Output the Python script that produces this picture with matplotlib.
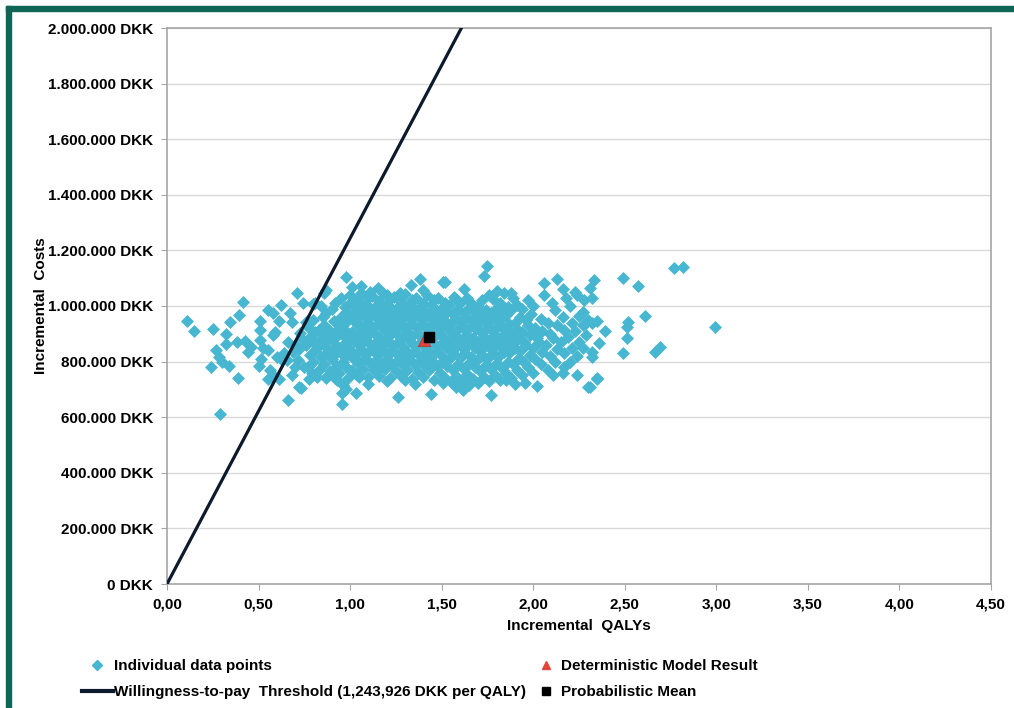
import matplotlib
matplotlib.use("Agg")
import matplotlib.pyplot as plt
from matplotlib.lines import Line2D
from matplotlib.patches import Rectangle
from matplotlib.ticker import FuncFormatter

# ---------------- data (QALY, cost in thousand DKK) ----------------
left_tail = [(0.11,946),(0.15,910),(0.25,917),(0.415,1014),(0.344,942),(0.393,968),(0.32,899),(0.322,863),
             (0.27,842),(0.284,817),(0.238,781),(0.30,799),(0.34,784),(0.386,741),(0.29,611),(0.38,870),
             (0.427,874),(0.44,835),(0.46,853),(0.508,946),(0.508,914),(0.508,878),(0.513,809),(0.50,784),
             (0.55,986),(0.58,975),(0.62,1004),(0.61,946),(0.59,906),(0.58,896),(0.67,975),(0.68,942),
             (0.71,1047),(0.74,1011),(0.80,1007),(0.66,870),(0.525,849),(0.55,842),(0.60,817),(0.63,806),
             (0.56,770),(0.58,752),(0.55,737),(0.61,737),(0.68,752),(0.72,709),(0.775,737),(0.66,662),
             (0.655,806),(0.69,835),(0.715,806),(0.75,781),(0.727,903),(0.76,942),(0.74,878),(0.70,860),
             (0.72,845),(0.64,830),(0.70,780)]

left_shoulder = [(0.77,780),(0.78,822),(0.76,858),(0.78,890),(0.77,925),(0.79,760),
                 (0.80,800),(0.81,842),(0.79,874),(0.81,905),(0.80,948),(0.82,745),
                 (0.83,770),(0.84,815),(0.82,850),(0.84,882),(0.83,915),(0.85,962),(0.84,1000),
                 (0.86,790),(0.87,830),(0.85,866),(0.87,896),(0.86,930),(0.88,752),(0.87,975),
                 (0.89,765),(0.90,810),(0.88,845),(0.90,878),(0.89,910),(0.91,945),(0.90,990),
                 (0.92,740),(0.93,785),(0.91,822),(0.93,856),(0.92,888),(0.94,920),(0.92,1010)]

core = [(0.94,760),(0.96,800),(0.95,835),(0.97,868),(0.94,900),(0.96,930),(0.95,962),(0.97,995),(0.95,1030),
        (0.99,742),(0.98,782),(0.97,818),(0.99,850),(0.98,884),(0.97,915),(0.99,948),(0.98,978),(1.00,1012),
        (1.01,770),(1.02,808),(1.00,842),(1.02,875),(1.01,906),(1.03,938),(1.01,970),(1.02,1003),(1.00,1040),
        (1.04,752),(1.05,790),(1.03,826),(1.05,858),(1.04,892),(1.06,922),(1.04,955),(1.05,988),(1.04,1022),
        (1.07,775),(1.08,812),(1.06,846),(1.08,878),(1.07,910),(1.09,944),(1.07,975),(1.08,1008),(1.06,1048),
        (1.10,745),(1.11,795),(1.09,830),(1.11,862),(1.10,896),(1.12,926),(1.10,958),(1.11,992),(1.10,1030),
        (1.13,768),(1.14,805),(1.12,840),(1.14,872),(1.13,904),(1.15,935),(1.13,968),(1.14,1000),(1.12,1036),
        (1.16,750),(1.17,788),(1.15,822),(1.17,856),(1.16,888),(1.18,920),(1.16,950),(1.17,985),(1.16,1018),
        (1.19,772),(1.20,810),(1.18,845),(1.20,878),(1.19,912),(1.21,942),(1.19,973),(1.20,1006),(1.18,1045),
        (1.22,740),(1.23,792),(1.21,828),(1.23,860),(1.22,894),(1.24,925),(1.22,958),(1.23,990),(1.22,1026),
        (1.25,765),(1.26,804),(1.24,838),(1.26,870),(1.25,902),(1.27,934),(1.25,965),(1.26,998),(1.24,1034),
        (1.28,748),(1.29,786),(1.27,820),(1.29,854),(1.28,886),(1.30,918),(1.28,950),(1.29,982),(1.28,1015),
        (1.31,770),(1.32,808),(1.30,842),(1.32,876),(1.31,908),(1.33,940),(1.31,972),(1.32,1004),(1.30,1042),
        (1.34,738),(1.35,790),(1.33,826),(1.35,858),(1.34,892),(1.36,924),(1.34,956),(1.35,988),(1.34,1022),
        (1.37,762),(1.38,802),(1.36,836),(1.38,868),(1.37,900),(1.39,932),(1.37,964),(1.38,996),(1.36,1030),
        (1.40,745),(1.41,785),(1.39,818),(1.41,852),(1.40,884),(1.42,916),(1.40,948),(1.41,980),(1.40,1012),
        (1.43,768),(1.44,806),(1.42,840),(1.44,874),(1.43,906),(1.45,938),(1.43,970),(1.44,1002),(1.42,1040),
        (1.46,735),(1.47,788),(1.45,824),(1.47,856),(1.46,890),(1.48,922),(1.46,954),(1.47,986),(1.46,1020),
        (1.49,760),(1.50,800),(1.48,834),(1.50,866),(1.49,898),(1.51,930),(1.49,962),(1.50,994),(1.48,1028),
        (1.52,742),(1.53,784),(1.51,816),(1.53,850),(1.52,882),(1.54,914),(1.52,946),(1.53,978),(1.52,1010),
        (1.55,725),(1.56,770),(1.54,808),(1.56,842),(1.55,876),(1.57,908),(1.55,940),(1.56,972),(1.54,1005),
        (1.58,748),(1.59,790),(1.57,826),(1.59,858),(1.58,892),(1.60,924),(1.58,956),(1.59,988),(1.58,1025),
        (1.61,730),(1.62,775),(1.60,812),(1.62,846),(1.61,880),(1.63,912),(1.61,944),(1.62,976),(1.60,1010),
        (1.64,755),(1.65,796),(1.63,830),(1.65,864),(1.64,896),(1.66,928),(1.64,960),(1.65,992),(1.64,1030),
        (1.67,738),(1.68,780),(1.66,816),(1.68,850),(1.67,884),(1.69,916),(1.67,948),(1.68,980),(1.66,1012),
        (1.70,722),(1.71,765),(1.69,802),(1.71,838),(1.70,872),(1.72,904),(1.70,936),(1.71,968),(1.70,1000),
        (1.73,745),(1.74,788),(1.72,824),(1.74,858),(1.73,890),(1.75,922),(1.73,954),(1.74,986),(1.72,1020),
        (1.76,730),(1.77,772),(1.75,810),(1.77,845),(1.76,878),(1.78,910),(1.76,942),(1.77,975),(1.76,1040),
        (1.79,752),(1.80,795),(1.78,830),(1.80,864),(1.79,896),(1.81,928),(1.79,960),(1.80,992),(1.78,1025),
        (1.82,735),(1.83,778),(1.81,815),(1.83,850),(1.82,884),(1.84,916),(1.82,948),(1.83,980),(1.82,1010),
        (1.85,760),(1.86,800),(1.84,836),(1.86,870),(1.85,902),(1.87,934),(1.85,966),(1.86,998),(1.84,1045)]

right_shoulder = [(1.88,740),(1.89,790),(1.87,830),(1.89,865),(1.88,900),(1.90,940),(1.88,985),(1.89,1030),
                  (1.91,770),(1.92,812),(1.90,850),(1.92,884),(1.91,918),(1.93,960),(1.91,1005),
                  (1.94,752),(1.95,800),(1.93,838),(1.95,872),(1.94,905),(1.96,948),(1.94,990),
                  (1.97,780),(1.98,825),(1.96,860),(1.98,895),(1.97,930),(1.99,972),(1.97,1020),
                  (2.00,760),(2.01,810),(2.00,848),(2.02,885),(2.01,920),(2.00,1000),
                  (2.04,790),(2.05,835),(2.03,870),(2.05,910),(2.04,955),(2.06,1040),
                  (2.08,770),(2.09,820),(2.07,858),(2.09,900),(2.08,940),(2.10,1010),
                  (2.12,800),(2.13,845),(2.11,885),(2.13,930),(2.12,985),
                  (2.16,760),(2.17,830),(2.15,870),(2.17,915),(2.16,960),(2.18,1030),
                  (2.20,800),(2.21,850),(2.19,890),(2.21,940),(2.20,1000),
                  (2.24,820),(2.25,870),(2.23,910),(2.25,965),(2.24,1040)]

top_outliers = [(0.98,1104),(1.01,1068),(1.06,1072),(1.11,1050),(0.87,1058),(0.86,1047),(0.81,1011),
                (1.33,1076),(1.38,1097),(1.40,1058),(1.51,1086),(1.57,1032),(1.20,1040),(1.27,1047),
                (1.745,1144),(1.73,1108),(1.52,1086),(2.06,1083),(2.13,1097),(2.16,1061),(2.23,1050),
                (2.33,1094),(1.88,1047),(1.62,1060),(1.80,1055),(1.15,1065)]

bottom_outliers = [(0.87,741),(0.93,734),(0.96,716),(0.955,687),(0.955,647),(1.03,687),(1.05,745),
                   (1.15,770),(1.26,673),(1.355,719),(1.44,683),(1.51,723),(1.58,709),(0.73,705),
                   (1.77,680),(1.615,698),(1.955,723),(2.02,712),(2.11,752),(2.17,781),(2.24,752),
                   (2.31,709),(2.35,741),(0.98,700),(1.10,720),(1.20,730),(1.30,735),(1.65,715),
                   (1.85,735),(1.90,720)]

right_tail = [(2.77,1137),(2.82,1140),(2.49,1101),(2.57,1072),(2.31,1065),(2.32,1029),(2.28,1022),
              (2.61,964),(2.99,924),(2.52,942),(2.51,924),(2.51,885),(2.49,831),(2.665,835),(2.69,853),
              (2.27,978),(2.35,946),(2.32,939),(2.39,910),(2.29,896),(2.36,867),(2.27,849),(2.32,835),
              (2.32,817),(2.35,737),(2.30,709),(2.30,950),(2.29,939),(2.27,930)]

deterministic = (1.405, 876)     # QALY, thousand DKK
probabilistic_mean = (1.43, 890)
wtp_threshold = 1243926          # DKK per QALY

x_ticks = [0.0, 0.5, 1.0, 1.5, 2.0, 2.5, 3.0, 3.5, 4.0, 4.5]
y_ticks = [0, 200000, 400000, 600000, 800000, 1000000, 1200000, 1400000, 1600000, 1800000, 2000000]

# ---------------- figure ----------------
W, H = 1014, 708
fig = plt.figure(figsize=(W / 100, H / 100), dpi=100)
plt.rcParams['font.family'] = ['Liberation Sans', 'DejaVu Sans']
FS = 11

left, right, top, bottom = 167, 991, 28, 584
ax = fig.add_axes([left / W, 1 - bottom / H, (right - left) / W, (bottom - top) / H])

all_pts = left_tail + left_shoulder + core + right_shoulder + top_outliers + bottom_outliers + right_tail
qs = [p[0] for p in all_pts]
cs = [p[1] * 1000 for p in all_pts]

pt_color = '#47b6d0'
ax.scatter(qs, cs, marker='D', s=44, color=pt_color, linewidths=0, zorder=3)

xs_line = [0.0, 4.5]
ax.plot(xs_line, [x * wtp_threshold for x in xs_line], color='#0c1a2b', lw=2.3, zorder=4,
        solid_capstyle='butt')

ax.scatter([deterministic[0]], [deterministic[1] * 1000], marker='^', s=80, color='#e0443a',
           edgecolors='#b8322a', linewidths=0.5, zorder=5)
ax.scatter([probabilistic_mean[0]], [probabilistic_mean[1] * 1000], marker='s', s=60, color='black', zorder=6)

ax.set_xlim(0, 4.5)
ax.set_ylim(0, 2000000)
ax.set_xticks(x_ticks)
ax.set_yticks(y_ticks)
ax.xaxis.set_major_formatter(FuncFormatter(lambda v, p: f"{v:.2f}".replace('.', ',')))
ax.yaxis.set_major_formatter(FuncFormatter(lambda v, p: f"{v:,.0f}".replace(',', '.') + " DKK"))
ax.grid(axis='y', color='#d9d9d9', lw=1.0, zorder=0)
ax.set_axisbelow(True)
for s in ax.spines.values():
    s.set_color('#a6a6a6')
    s.set_linewidth(1.2)
ax.tick_params(axis='both', direction='out', length=4, color='#a6a6a6', labelsize=FS)
ax.tick_params(axis='x', pad=6)
ax.tick_params(axis='y', pad=6)
for lab in ax.get_xticklabels() + ax.get_yticklabels():
    lab.set_fontweight('bold')

ax.set_xlabel('Incremental  QALYs', fontsize=FS, fontweight='bold', labelpad=5)
ax.set_ylabel('Incremental  Costs', fontsize=FS, fontweight='bold', labelpad=0)

# ---------------- legend ----------------
h_pts = Line2D([], [], marker='D', linestyle='none', markersize=5, color=pt_color)
h_line = Line2D([], [], color='#0c1a2b', lw=3)
h_det = Line2D([], [], marker='^', linestyle='none', markersize=6, color='#e0443a')
h_mean = Line2D([], [], marker='s', linestyle='none', markersize=6, color='black')

leg_kw = dict(frameon=False, borderpad=0, borderaxespad=0, labelspacing=0.8,
              prop={'weight': 'bold', 'size': FS})
leg1 = fig.legend([h_pts, h_line], ['Individual data points',
                                     'Willingness-to-pay  Threshold (1,243,926 DKK per QALY)'],
                  loc='upper left', bbox_to_anchor=(82 / W, 1 - 659 / H), handlelength=2.0,
                  handletextpad=0.1, **leg_kw)
leg2 = fig.legend([h_det, h_mean], ['Deterministic Model Result', 'Probabilistic Mean'],
                  loc='upper left', bbox_to_anchor=(538 / W, 1 - 659 / H), handlelength=1.0,
                  handletextpad=0.5, **leg_kw)

# ---------------- green frame ----------------
frame_color = '#0f6656'
fig.patches.append(Rectangle((6 / W, 1 - 11 / H), 1 - 6 / W, 5 / H, transform=fig.transFigure,
                             color=frame_color, zorder=0))
fig.patches.append(Rectangle((6 / W, 0), 5 / W, 1 - 6 / H, transform=fig.transFigure,
                             color=frame_color, zorder=0))

fig.savefig('out.png', dpi=100)
